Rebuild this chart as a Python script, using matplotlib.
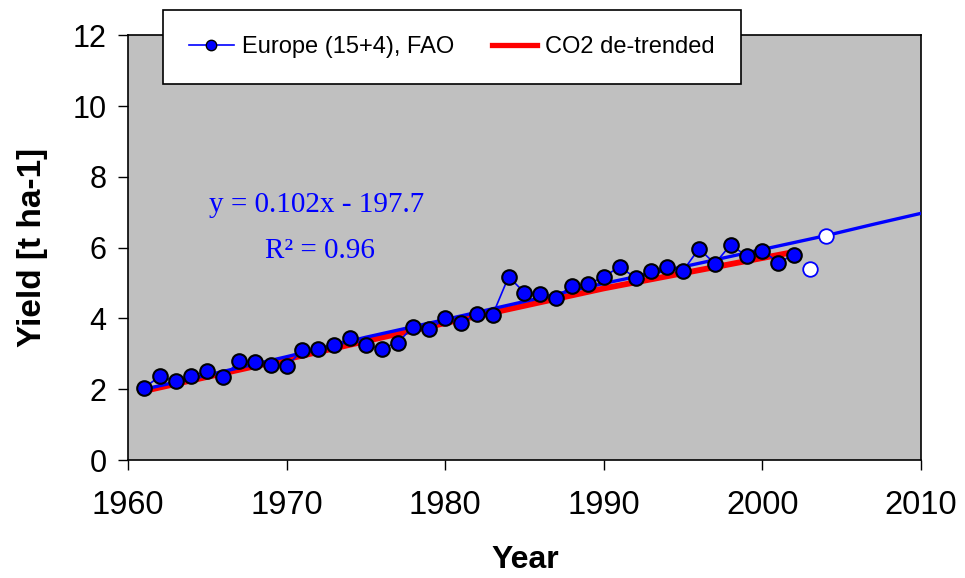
import matplotlib.pyplot as plt
from matplotlib.lines import Line2D

# FAO yields, Europe (15+4)
years = list(range(1961, 2003))
yields = [2.03, 2.37, 2.23, 2.37, 2.51, 2.34, 2.79, 2.76, 2.70, 2.65,
          3.10, 3.13, 3.24, 3.44, 3.24, 3.15, 3.32, 3.77, 3.69, 4.00,
          3.86, 4.14, 4.11, 5.18, 4.73, 4.68, 4.59, 4.93, 4.96, 5.18,
          5.46, 5.15, 5.35, 5.44, 5.35, 5.97, 5.55, 6.08, 5.77, 5.92,
          5.58, 5.80]

# later years, shown as open markers
extra_years = [2003, 2004]
extra_yields = [5.41, 6.34]

# trend projection
trend_years = [1961, 1965, 1970, 1975, 1980, 1985, 1990, 1995, 2000, 2004, 2007, 2010]
trend_vals = [2.00, 2.40, 2.92, 3.47, 3.97, 4.48, 4.99, 5.46, 5.95, 6.34, 6.66, 6.97]

# CO2 de-trended yield
co2_years = [1961, 1970, 1980, 1990, 2002]
co2_vals = [1.95, 2.85, 3.87, 4.85, 5.88]

plt.rcParams['font.family'] = ['Liberation Sans', 'DejaVu Sans']

fig = plt.figure(figsize=(9.65, 5.78), dpi=100)
ax = fig.add_axes([0.1326, 0.204, 0.8218, 0.735])
ax.set_facecolor('#c0c0c0')

ax.plot(co2_years, co2_vals, color='red', lw=4.2, solid_capstyle='butt', zorder=2)
ax.plot(trend_years, trend_vals, color='blue', lw=2.4, zorder=3)
ax.plot(years, yields, color='blue', lw=1.2, marker='o', ms=10.5,
        markerfacecolor='blue', markeredgecolor='black', markeredgewidth=1.5, zorder=4)
ax.plot(extra_years, extra_yields, ls='none', marker='o', ms=10.5,
        markerfacecolor='white', markeredgecolor='blue', markeredgewidth=1.3, zorder=5)

ax.set_xlim(1960, 2010)
ax.set_ylim(0, 12)
ax.set_xticks(range(1960, 2011, 10))
ax.set_yticks(range(0, 13, 2))
ax.tick_params(direction='out', length=7.5, width=1)
ax.tick_params(axis='x', labelsize=23.5, pad=14)
ax.tick_params(axis='y', labelsize=22, pad=8)
for s in ax.spines.values():
    s.set_linewidth(1.2)

fig.text(525 / 965, 1 - 560 / 578, 'Year', fontsize=23, fontweight='bold',
         ha='center', va='center')
fig.text(33 / 965, 1 - 247 / 578, 'Yield [t ha-1]', fontsize=24, fontweight='bold',
         ha='center', va='center', rotation=90)

ax.text(1971.9, 7.01, 'y = 0.102x - 197.7', color='blue', fontsize=21,
        family='Liberation Serif', ha='center', va='baseline')
ax.text(1972.1, 5.72, 'R² = 0.96', color='blue', fontsize=21,
        family='Liberation Serif', ha='center', va='baseline')

handles = [
    Line2D([], [], color='blue', lw=1.2, marker='o', ms=7.5,
           markerfacecolor='blue', markeredgecolor='black'),
    Line2D([], [], color='red', lw=3.8),
]
leg = fig.legend(handles, ['Europe (15+4), FAO', 'CO2 de-trended'],
                 loc='upper left', bbox_to_anchor=(0.169, 0.983),
                 borderaxespad=0, ncol=2, fontsize=17, frameon=True, fancybox=False,
                 borderpad=1.1, handlelength=1.9, handletextpad=0.35,
                 columnspacing=1.6)
leg.get_frame().set_edgecolor('black')
leg.get_frame().set_linewidth(1.2)
leg.get_frame().set_alpha(1)

fig.savefig('out.png', dpi=100)
